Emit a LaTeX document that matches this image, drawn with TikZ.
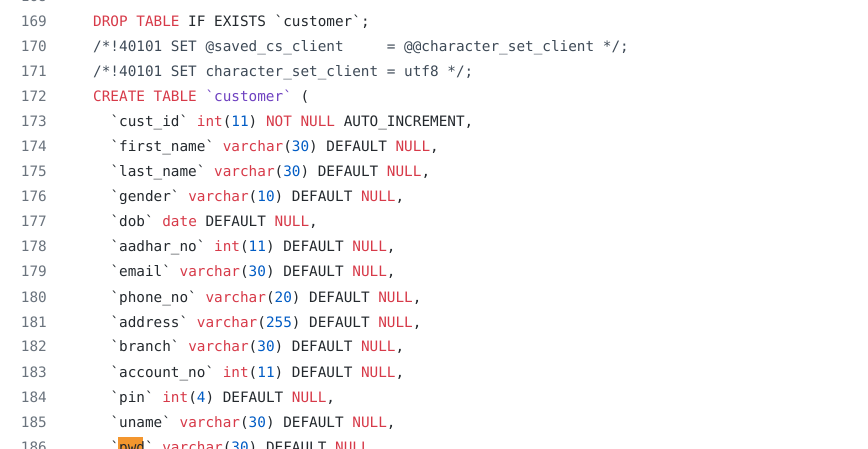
\documentclass[tikz,border=0pt]{standalone}
\usepackage{fontspec}
\newfontfamily\cf{DejaVu Sans Mono}[Ligatures=NoCommon]
\definecolor{kw}{HTML}{D73A49}
\definecolor{tx}{HTML}{24292E}
\definecolor{nm}{HTML}{005CC5}
\definecolor{pu}{HTML}{6F42C1}
\definecolor{ln}{HTML}{6A737D}
\definecolor{cm}{HTML}{3E4A57}
\definecolor{hl}{HTML}{F3962E}
\newcommand\bq{\char96}
\newcommand\K[1]{\textcolor{kw}{#1}}
\newcommand\N[1]{\textcolor{nm}{#1}}
\newcommand\Pu[1]{\textcolor{pu}{#1}}
\tikzset{code/.style={anchor=base west,inner sep=0pt,font=\cf\fontsize{14.35}{16}\selectfont,text=tx},
lnum/.style={anchor=base east,inner sep=0pt,font=\cf\fontsize{14.35}{16}\selectfont,text=ln}}
\begin{document}
\begin{tikzpicture}[x=1pt,y=-1pt]
\useasboundingbox (0,0) rectangle (868,449);
\fill[white] (0,0) rectangle (868,449);
\clip (0,0) rectangle (868,449);
\newcommand\LL[4]{\node[lnum] (n#2) at (47,#1) {#2}; \node[code] (c#2) at (#3,#1) {#4};}
\LL{2}{168}{93}{}
\LL{27}{169}{93}{\K{DROP} \K{TABLE} IF EXISTS \bq customer\bq;}
\LL{52}{170}{93}{\textcolor{cm}{/*!40101 SET @saved\_cs\_client\ \ \ \ \ = @@character\_set\_client */;}}
\LL{77}{171}{93}{\textcolor{cm}{/*!40101 SET character\_set\_client = utf8 */;}}
\LL{102}{172}{93}{\K{CREATE} \K{TABLE} \Pu{\bq customer\bq} (}
\LL{127}{173}{110.3}{\bq cust\_id\bq\ \K{int}(\N{11}) \K{NOT} \K{NULL} AUTO\_INCREMENT,}
\LL{152}{174}{110.3}{\bq first\_name\bq\ \K{varchar}(\N{30}) DEFAULT \K{NULL},}
\LL{177}{175}{110.3}{\bq last\_name\bq\ \K{varchar}(\N{30}) DEFAULT \K{NULL},}
\LL{202}{176}{110.3}{\bq gender\bq\ \K{varchar}(\N{10}) DEFAULT \K{NULL},}
\LL{227}{177}{110.3}{\bq dob\bq\ \K{date} DEFAULT \K{NULL},}
\LL{252}{178}{110.3}{\bq aadhar\_no\bq\ \K{int}(\N{11}) DEFAULT \K{NULL},}
\LL{277}{179}{110.3}{\bq email\bq\ \K{varchar}(\N{30}) DEFAULT \K{NULL},}
\LL{302}{180}{110.3}{\bq phone\_no\bq\ \K{varchar}(\N{20}) DEFAULT \K{NULL},}
\LL{327}{181}{110.3}{\bq address\bq\ \K{varchar}(\N{255}) DEFAULT \K{NULL},}
\LL{352}{182}{110.3}{\bq branch\bq\ \K{varchar}(\N{30}) DEFAULT \K{NULL},}
\LL{377}{183}{110.3}{\bq account\_no\bq\ \K{int}(\N{11}) DEFAULT \K{NULL},}
\LL{402}{184}{110.3}{\bq pin\bq\ \K{int}(\N{4}) DEFAULT \K{NULL},}
\LL{427}{185}{110.3}{\bq uname\bq\ \K{varchar}(\N{30}) DEFAULT \K{NULL},}
\fill[hl] (118.3,437) rectangle (143,456);
\LL{452}{186}{110.3}{\bq pwd\bq\ \K{varchar}(\N{30}) DEFAULT \K{NULL},}
\end{tikzpicture}
\end{document}
